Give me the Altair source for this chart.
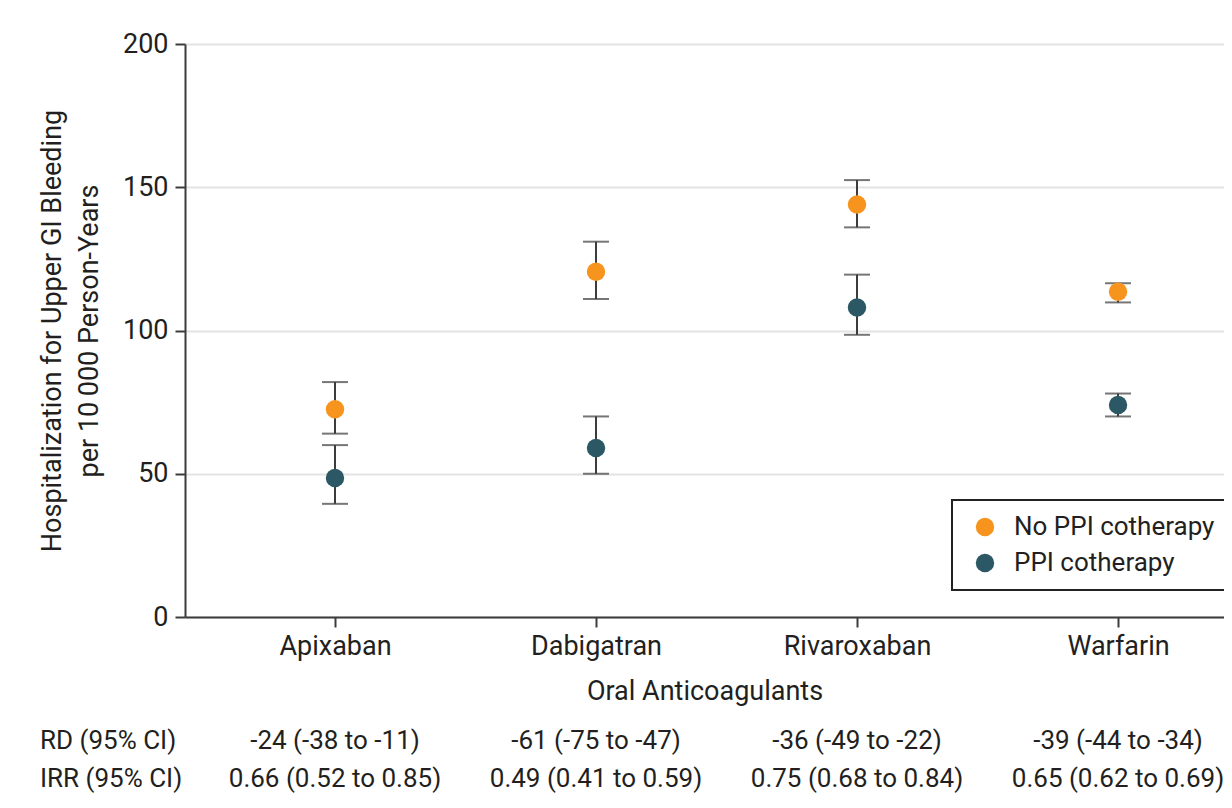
import altair as alt
import pandas as pd

drugs = ["Apixaban", "Dabigatran", "Rivaroxaban", "Warfarin"]
groups = ["No PPI cotherapy", "PPI cotherapy"]
colors = ["#F7941E", "#2C5866"]

no_ppi_est = [72.5, 120.5, 144.0, 113.5]
no_ppi_lo = [64.0, 111.0, 136.0, 109.8]
no_ppi_hi = [82.0, 131.0, 152.5, 116.5]

ppi_est = [48.5, 59.0, 108.0, 74.0]
ppi_lo = [39.5, 50.0, 98.5, 70.0]
ppi_hi = [60.0, 70.0, 119.5, 78.0]

rd_text = ["-24 (-38 to -11)", "-61 (-75 to -47)", "-36 (-49 to -22)", "-39 (-44 to -34)"]
irr_text = ["0.66 (0.52 to 0.85)", "0.49 (0.41 to 0.59)", "0.75 (0.68 to 0.84)", "0.65 (0.62 to 0.69)"]
row_labels = ["RD (95% CI)", "IRR (95% CI)"]

FONT = "Roboto"
TXT = "#231F20"
LINE = "#3C3C3C"

rows = []
for i, d in enumerate(drugs):
    rows.append({"idx": i, "drug": d, "group": groups[0], "est": no_ppi_est[i], "lo": no_ppi_lo[i], "hi": no_ppi_hi[i]})
    rows.append({"idx": i, "drug": d, "group": groups[1], "est": ppi_est[i], "lo": ppi_lo[i], "hi": ppi_hi[i]})
df = pd.DataFrame(rows)

tdf = pd.DataFrame({"idx": list(range(len(drugs))), "rd": rd_text, "irr": irr_text})

label_expr = "[" + ",".join("'" + d + "'" for d in drugs) + "][datum.value]"

xscale = alt.Scale(domain=[-0.5747, 3.406], nice=False, zero=False)
yscale = alt.Scale(domain=[0, 200], nice=False)

x_enc = alt.X("idx:Q", scale=xscale,
              axis=alt.Axis(values=[0, 1, 2, 3], labelExpr=label_expr, title="Oral Anticoagulants",
                            grid=False, tickSize=10, labelPadding=6, titlePadding=19,
                            domainColor=LINE, tickColor=LINE, domainWidth=2, tickWidth=2))
y_enc = alt.Y("lo:Q", scale=yscale,
              axis=alt.Axis(values=[0, 50, 100, 150, 200],
                            title=["Hospitalization for Upper GI Bleeding", "per 10\u2009000 Person-Years"],
                            titleLineHeight=37, titlePadding=19, tickSize=10, labelPadding=7,
                            grid=True, gridColor="#E3E3E3", gridWidth=2,
                            domainColor=LINE, tickColor=LINE, domainWidth=2, tickWidth=2))

base = alt.Chart(df)

rule = base.mark_rule(color=LINE, strokeWidth=2).encode(x=x_enc, y=y_enc, y2="hi:Q")
cap_lo = base.mark_tick(orient="horizontal", color=LINE, size=26, thickness=2).encode(
    x=alt.X("idx:Q", scale=xscale), y=alt.Y("lo:Q", scale=yscale))
cap_hi = base.mark_tick(orient="horizontal", color=LINE, size=26, thickness=2).encode(
    x=alt.X("idx:Q", scale=xscale), y=alt.Y("hi:Q", scale=yscale))
pts = base.mark_circle(size=340, opacity=1).encode(
    x=alt.X("idx:Q", scale=xscale),
    y=alt.Y("est:Q", scale=yscale),
    color=alt.Color("group:N", scale=alt.Scale(domain=groups, range=colors),
                    legend=alt.Legend(title=None, orient="none", legendX=767, legendY=456,
                                      strokeColor="#222", fillColor="white",
                                      padding=14, symbolOffset=6, labelOffset=16, rowPadding=10,
                                      symbolSize=340, symbolType="circle", labelFontSize=26,
                                      labelFont=FONT, labelColor=TXT, labelLimit=400)),
)

rd = alt.Chart(tdf).mark_text(font=FONT, fontSize=26, color=TXT).encode(
    x=alt.X("idx:Q", scale=xscale), y=alt.value(697), text="rd:N")
irr = alt.Chart(tdf).mark_text(font=FONT, fontSize=26, color=TXT).encode(
    x=alt.X("idx:Q", scale=xscale), y=alt.value(735), text="irr:N")
rl1 = alt.Chart(pd.DataFrame({"label": [row_labels[0]]})).mark_text(
    font=FONT, fontSize=26, color=TXT, align="left").encode(
    x=alt.value(-145), y=alt.value(697), text="label:N")
rl2 = alt.Chart(pd.DataFrame({"label": [row_labels[1]]})).mark_text(
    font=FONT, fontSize=26, color=TXT, align="left").encode(
    x=alt.value(-145), y=alt.value(735), text="label:N")

chart = alt.layer(rule, cap_lo, cap_hi, pts, rd, irr, rl1, rl2).properties(
    width=1039, height=573,
    autosize=alt.AutoSizeParams(type="none"),
    padding={"left": 177, "top": 36, "right": 0, "bottom": 176},
    background="white",
).configure_view(stroke=None).configure_axis(
    labelFont=FONT, labelFontSize=27, labelColor=TXT,
    titleFont=FONT, titleFontSize=27, titleColor=TXT, titleFontWeight="normal",
).configure_legend(strokeWidth=2)

chart.save("out.html", embed_options={"renderer": "svg", "actions": False})
